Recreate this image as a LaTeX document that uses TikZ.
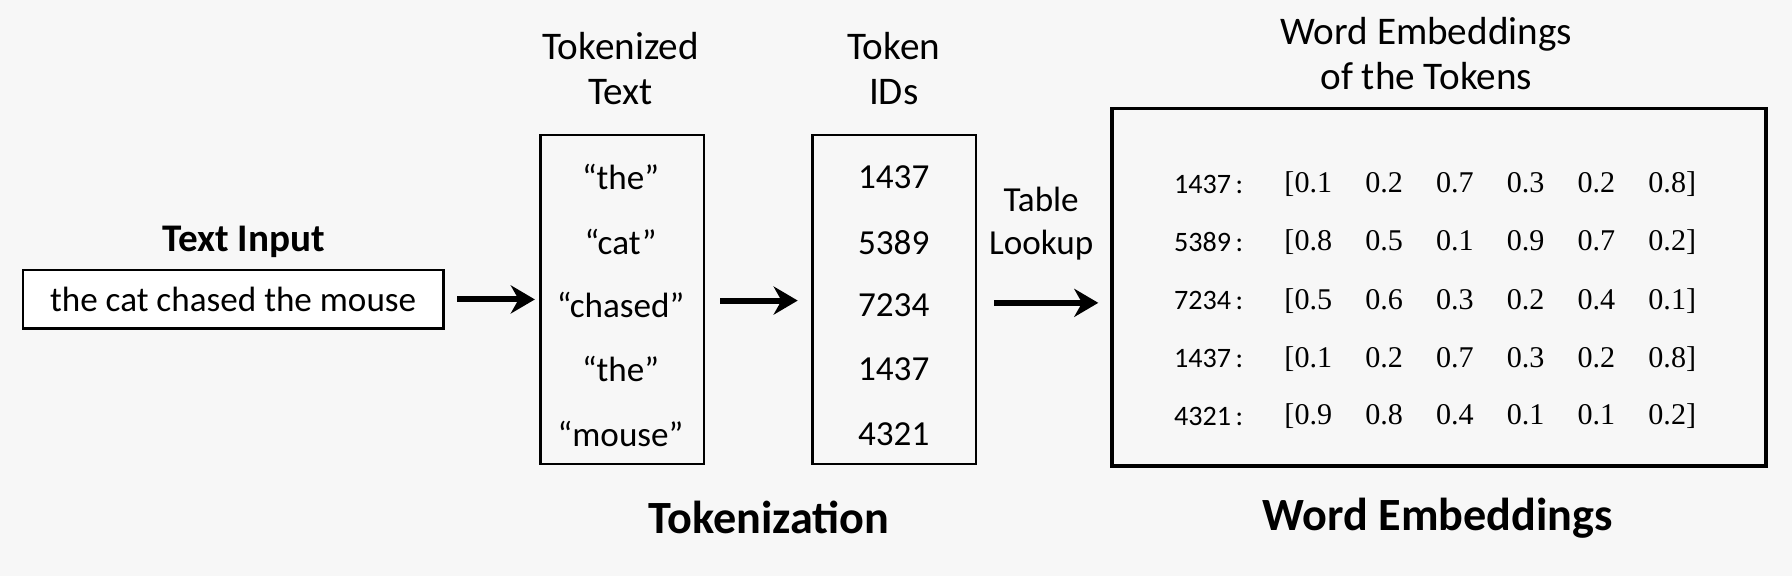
\documentclass[tikz,border=0pt]{standalone}
\usepackage{fontspec}
\usetikzlibrary{arrows.meta}
\setmainfont{Carlito}
\newfontfamily\serifnum{Liberation Serif}
\begin{document}
\begin{tikzpicture}[x=0.02cm,y=-0.02cm,
  box/.style={draw,line width=1.2pt,inner sep=0},
  lab/.style={font=\fontsize{17.5}{20}\selectfont},
  hdr/.style={font=\fontsize{19.5}{22.5}\selectfont,align=center},
  big/.style={font=\fontsize{23}{26}\selectfont\bfseries},
  val/.style={font=\serifnum\fontsize{15}{18}\selectfont},
  rl/.style={font=\fontsize{14}{16}\selectfont,anchor=east},
  arr/.style={line width=3pt,-{Stealth[length=12pt,width=14pt]}}]
\fill[white!97!black] (0,0) rectangle (1568,504);
\useasboundingbox (0,0) rectangle (1568,504);
% text input
\node[font=\fontsize{19.5}{22}\selectfont\bfseries] (tin) at (213,212) {Text Input};
\node[box,minimum width=368*0.02cm,minimum height=51*0.02cm,fill=white] (inbox) at (204,262) {};
\node[lab] (intext) at (204,262) {the cat chased the mouse};
% tokenized
\node[hdr] (th) at (543,60) {Tokenized\\Text};
\node[box,minimum width=143*0.02cm,minimum height=288*0.02cm] (tokbox) at (544.5,262) {};
\foreach \t/\y [count=\i] in {{``the''}/155,{``cat''}/212,{``chased''}/267,{``the''}/323,{``mouse''}/380}
  \node[lab] (tk\i) at (543,\y) {\t};
% ids
\node[hdr] (ih) at (782,60) {Token\\IDs};
\node[box,minimum width=143*0.02cm,minimum height=288*0.02cm] (idbox) at (782.5,262) {};
\foreach \t/\y [count=\i] in {1437/155,5389/212,7234/267,1437/323,4321/380}
  \node[lab] (id\i) at (782,\y) {\t};
% table lookup
\node[hdr,font=\fontsize{17.5}{21.5}\selectfont] (tl) at (911,196) {Table\\Lookup};
% embeddings
\node[hdr] (eh) at (1248,47) {Word Embeddings\\of the Tokens};
\node[box,line width=1.8pt,minimum width=572*0.02cm,minimum height=313*0.02cm] (ebox) at (1259,251.5) {};
\foreach \n/\y/\a/\b/\c/\d/\e/\f [count=\i] in {
 1437/161/0.1/0.2/0.7/0.3/0.2/0.8,
 5389/212/0.8/0.5/0.1/0.9/0.7/0.2,
 7234/263/0.5/0.6/0.3/0.2/0.4/0.1,
 1437/314/0.1/0.2/0.7/0.3/0.2/0.8,
 4321/364/0.9/0.8/0.4/0.1/0.1/0.2}{
  \node[rl] (r\i) at (1094,\y) {\n\,:};
  \node[val] (v\i) at (1304,\y) {[\a\hspace{16.5pt}\b\hspace{16.5pt}\c\hspace{16.5pt}\d\hspace{16.5pt}\e\hspace{16.5pt}\f]};
}
% arrows
\coordinate (a1s) at (400,262); \coordinate (a1e) at (468,262);
\coordinate (a2s) at (630,263); \coordinate (a2e) at (698,263);
\coordinate (a3s) at (870,265); \coordinate (a3e) at (961,265);
\draw[arr] (a1s) -- (a1e);
\draw[arr] (a2s) -- (a2e);
\draw[arr] (a3s) -- (a3e);
% bottom labels
\node[big] (tkz) at (673,453) {Tokenization};
\node[big] (we) at (1258,453) {Word Embeddings};
\end{tikzpicture}
\end{document}
